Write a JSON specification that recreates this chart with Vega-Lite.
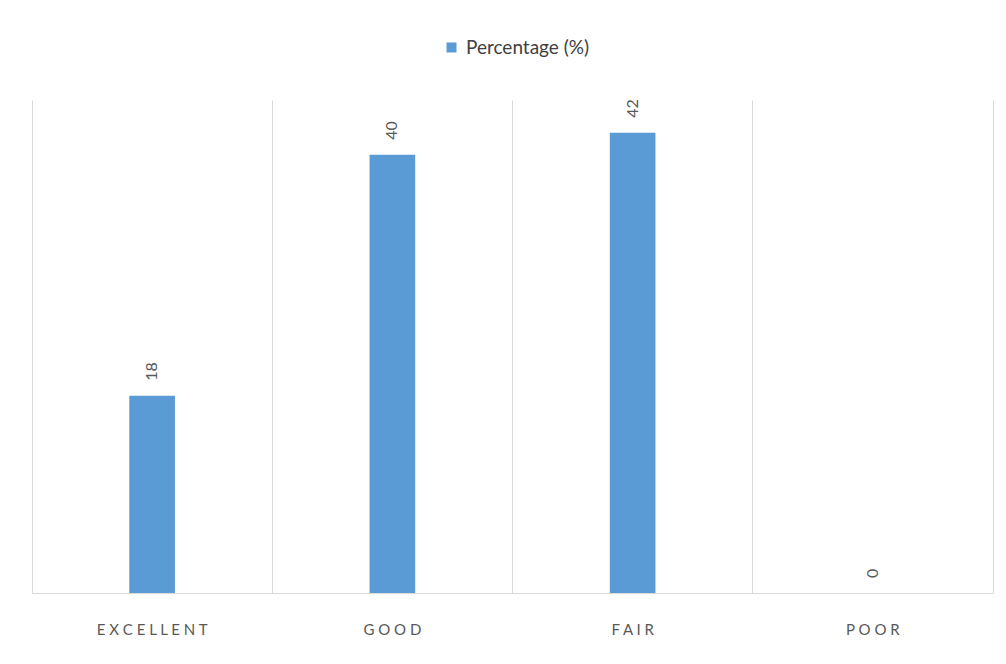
{
  "$schema": "https://vega.github.io/schema/vega-lite/v6.json",
  "width": 961,
  "height": 493,
  "autosize": "none",
  "padding": {"left": 32, "top": 100, "right": 13, "bottom": 71},
  "background": "white",
  "config": {
    "view": {"stroke": null},
    "font": "Lato"
  },
  "data": {
    "values": [
      {"rating": "EXCELLENT", "pct": 18},
      {"rating": "GOOD", "pct": 40},
      {"rating": "FAIR", "pct": 42},
      {"rating": "POOR", "pct": 0}
    ]
  },
  "encoding": {
    "x": {
      "field": "rating",
      "type": "nominal",
      "sort": null,
      "scale": {"paddingInner": 0, "paddingOuter": 0},
      "axis": {
        "title": null,
        "labelAngle": 0,
        "labelExpr": "join(split(datum.label, ''), ' ')",
        "labelFontSize": 15,
        "labelColor": "#595959",
        "labelPadding": 29,
        "ticks": false,
        "domainColor": "#d9d9d9",
        "grid": true,
        "gridColor": "#d9d9d9",
        "bandPosition": 0
      }
    },
    "y": {
      "field": "pct",
      "type": "quantitative",
      "scale": {"domain": [0, 45], "nice": false},
      "axis": {
        "orient": "right",
        "title": null,
        "labels": false,
        "ticks": false,
        "grid": false,
        "domainColor": "#d9d9d9"
      }
    }
  },
  "layer": [
    {
      "mark": {"type": "bar", "width": {"band": 0.19}},
      "encoding": {
        "color": {
          "datum": "Percentage (%)",
          "type": "nominal",
          "scale": {"range": ["#5B9BD5"]},
          "legend": {
            "title": null,
            "orient": "none",
            "legendX": 410,
            "legendY": -62,
            "symbolType": "square",
            "symbolSize": 100,
            "symbolOpacity": 1,
            "labelFontSize": 19,
            "labelColor": "#404040",
            "labelOffset": 5
          }
        }
      }
    },
    {
      "mark": {
        "type": "text",
        "angle": 270,
        "align": "left",
        "baseline": "middle",
        "dx": 15,
        "fontSize": 16,
        "color": "#595959"
      },
      "encoding": {
        "text": {"field": "pct", "type": "quantitative"}
      }
    }
  ]
}
